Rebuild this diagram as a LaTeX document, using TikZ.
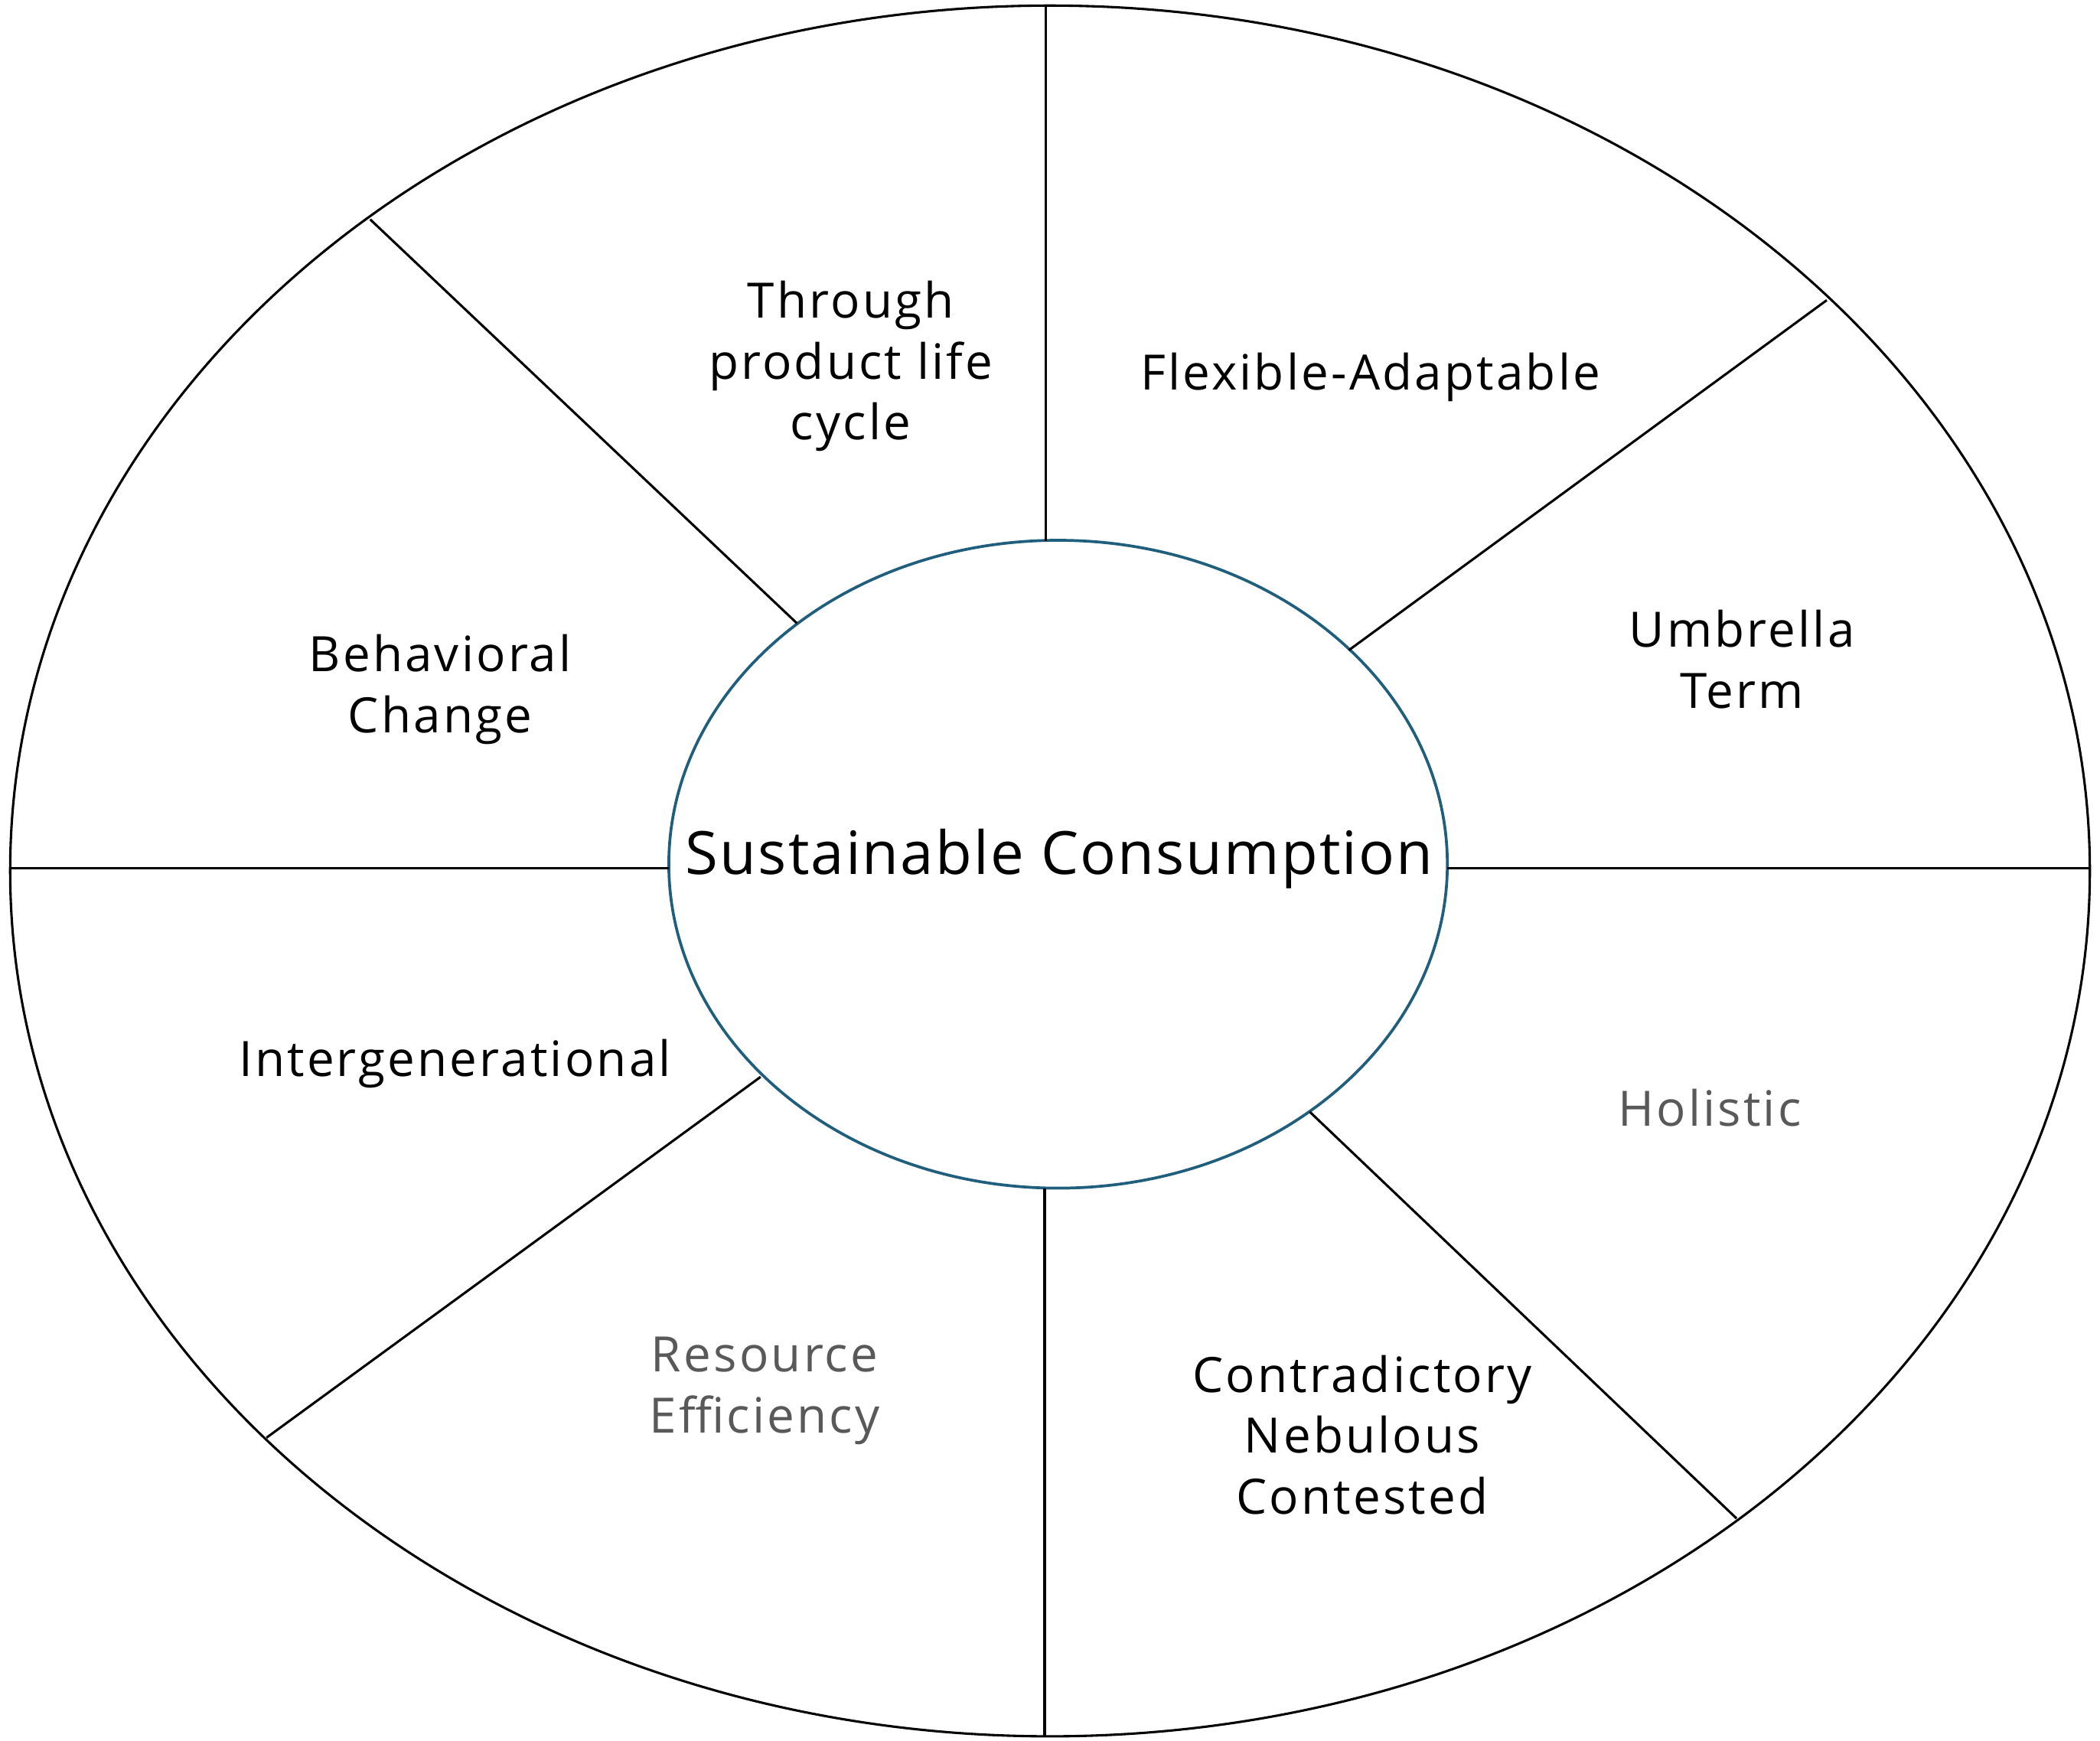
\documentclass[tikz,border=0pt]{standalone}
\usepackage{fontspec}
\setmainfont{Open Sans}
\newfontfamily\labfont[LetterSpace=5]{Open Sans}
\newfontfamily\titfont[LetterSpace=2.7]{Open Sans}
\usetikzlibrary{shapes.geometric}
\definecolor{tealc}{RGB}{31,95,125}
\begin{document}
\begin{tikzpicture}[x=0.01cm,y=-0.01cm,
  lab/.style={align=center,font=\labfont\fontsize{10.3}{12.9}\selectfont,inner sep=0pt},
  grey/.style={text=black!65},
  ln/.style={line width=0.5pt}]
\useasboundingbox (0,0) rectangle (1560,1293);
\node[draw,ln,ellipse,minimum width=15.44cm,minimum height=12.85cm,inner sep=0pt] (outer) at (780,647) {};
\node[draw=tealc,line width=0.6pt,ellipse,minimum width=5.78cm,minimum height=4.81cm,inner sep=0pt,fill=white] (inner) at (786,642) {};
\coordinate (t1) at (777,5); \coordinate (t2) at (777,402);
\coordinate (b1) at (776,883); \coordinate (b2) at (776,1290);
\coordinate (l1) at (8,645); \coordinate (l2) at (497,645);
\coordinate (r1) at (1075,645); \coordinate (r2) at (1552,645);
\coordinate (d1a) at (275,163); \coordinate (d1b) at (592,463);
\coordinate (d2a) at (1357,223); \coordinate (d2b) at (1002,483);
\coordinate (d3a) at (565,800); \coordinate (d3b) at (198,1068);
\coordinate (d4a) at (973,826); \coordinate (d4b) at (1290,1128);
\foreach \a/\b in {t1/t2,b1/b2,l1/l2,r1/r2,d1a/d1b,d2a/d2b,d3a/d3b,d4a/d4b} \draw[ln] (\a)--(\b);
\node[font=\titfont\fontsize{12.6}{15}\selectfont,inner sep=0pt] (title) at (787,638) {Sustainable Consumption};
\node[lab] (n1) at (632,272) {Through\\product life\\cycle};
\node[lab] (n2) at (1018,280) {Flexible-Adaptable};
\node[lab] (n3) at (1294,490) {Umbrella\\Term};
\node[lab] (n4) at (327,512) {Behavioral\\Change};
\node[lab] (n5) at (338,790) {Intergenerational};
\node[lab,grey] (n6) at (1270,823) {Holistic};
\node[lab,grey] (n7) at (568,1033) {Resource\\Efficiency};
\node[lab] (n8) at (1012,1066) {Contradictory\\Nebulous\\Contested};
\end{tikzpicture}
\end{document}
